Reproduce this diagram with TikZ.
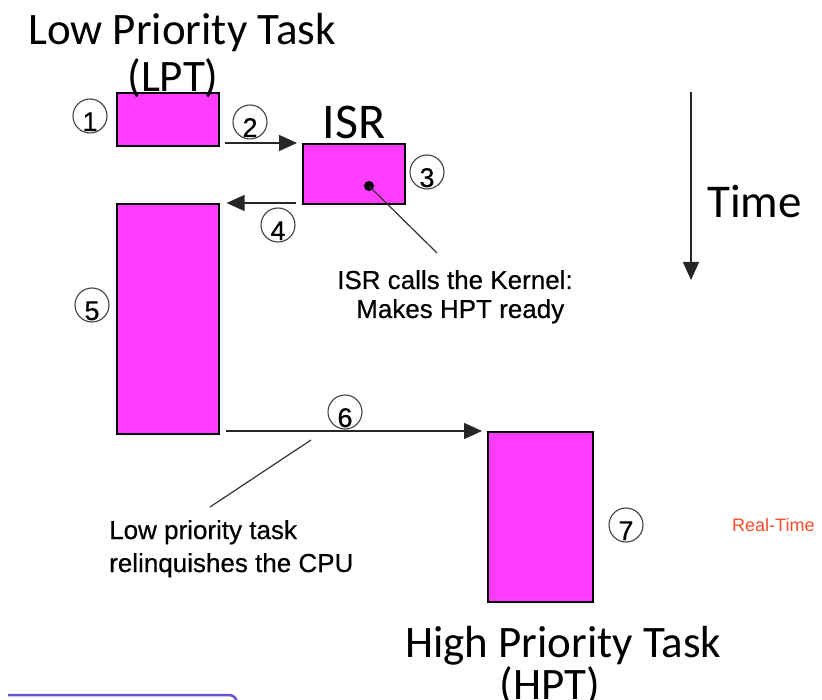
\documentclass[tikz,border=0pt]{standalone}
\usepackage{fontspec}
\setmainfont{Liberation Sans}
\newfontfamily\titlefont{Carlito}
\newfontfamily\notefont{Liberation Sans}[FakeBold=0.5]
\usetikzlibrary{arrows.meta}
\definecolor{taskfill}{HTML}{FF3CFF}
\definecolor{rtred}{HTML}{FF4A2A}
\definecolor{slateline}{HTML}{6655CC}
\tikzset{
  taskbox/.style={draw=black, fill=taskfill, line width=1.6pt, inner sep=0pt, anchor=north west},
  numcircle/.style={circle, draw=black!75, line width=1.1pt, minimum size=34pt, inner sep=0pt},
  numtext/.style={font=\notefont\fontsize{27}{27}\selectfont, inner sep=0pt, anchor=base},
  flow/.style={line width=1.5pt, draw=black!85, -{Triangle[length=18pt,width=16pt]}},
  callout/.style={line width=1.2pt, draw=black!80},
  bigtitle/.style={font=\titlefont\fontsize{45}{47}\selectfont, inner sep=0pt},
  note/.style={font=\notefont\fontsize{26}{29}\selectfont, inner sep=0pt, anchor=base west},
}
\begin{document}
\begin{tikzpicture}[x=1pt,y=-1pt]
\useasboundingbox (0,0) rectangle (822,700);
\clip (0,0) rectangle (822,700);
% task boxes
\node[taskbox, minimum width=102pt, minimum height=53pt] (lpt1) at (116,92) {};
\node[taskbox, minimum width=102pt, minimum height=60pt] (isr) at (302,143) {};
\node[taskbox, minimum width=102pt, minimum height=230pt] (lpt2) at (116,203) {};
\node[taskbox, minimum width=105pt, minimum height=170pt] (hpt) at (487,431) {};
% titles
\node[bigtitle, anchor=base west] (lpttitle) at (28,45) {Low Priority Task};
\node[bigtitle, anchor=base] (lptabbr) at (173,92) {(LPT)};
\node[bigtitle, font=\titlefont\fontsize{50}{50}\selectfont, anchor=base] (isrtitle) at (354,139) {ISR};
\node[bigtitle, anchor=base west] (hpttitle) at (405,657) {High Priority Task};
\node[bigtitle, anchor=base] (hptabbr) at (550,699) {(HPT)};
\node[bigtitle, font=\titlefont\fontsize{47}{47}\selectfont, anchor=base west] (timelbl) at (707,218) {Time};
% flow arrows
\coordinate (a2s) at (225,143);
\draw[flow, shorten >=5pt] (a2s) -- (isr.north west);
\coordinate (a4s) at (296,203);
\draw[flow, shorten >=7pt] (a4s) -- (lpt2.north east);
\coordinate (a6s) at (226,431);
\draw[flow, shorten >=5pt] (a6s) -- (hpt.north west);
\coordinate (t0) at (691,92);
\coordinate (t1) at (691,280);
\draw[flow] (t0) -- (t1);
% callouts
\node[circle, fill=black, inner sep=0pt, minimum size=10pt] (dot) at (369,186) {};
\coordinate (c3e) at (437,253);
\draw[callout] (dot.center) -- (c3e);
\coordinate (c6a) at (311,440);
\coordinate (c6b) at (210,507);
\draw[callout] (c6a) -- (c6b);
% notes
\node[note] (isrnote1) at (337,289) {ISR calls the Kernel:};
\node[note] (isrnote2) at (356,318) {Makes HPT ready};
\node[note] (lptnote1) at (109,539) {Low priority task};
\node[note] (lptnote2) at (109,572) {relinquishes the CPU};
\node[font=\fontsize{18}{18}\selectfont, text=rtred, anchor=base west, inner sep=0pt] (rt) at (732,531) {Real-Time};
% numbered circles
\node[numcircle] (n1) at (90,116) {};
\node[numtext] (d1) at (90,131) {1};
\node[numcircle] (n2) at (250,122) {};
\node[numtext] (d2) at (250,137) {2};
\node[numcircle] (n3) at (427,172) {};
\node[numtext] (d3) at (427,187) {3};
\node[numcircle] (n4) at (278,225) {};
\node[numtext] (d4) at (278,240) {4};
\node[numcircle] (n5) at (92,305) {};
\node[numtext] (d5) at (92,320) {5};
\node[numcircle] (n6) at (345,412) {};
\node[numtext] (d6) at (345,427) {6};
\node[numcircle] (n7) at (626,525) {};
\node[numtext] (d7) at (626,540) {7};
% partial frame at bottom left
\draw[slateline, line width=2.5pt, rounded corners=8pt] (8,695) -- (237,695) -- (237,720);
\end{tikzpicture}
\end{document}
